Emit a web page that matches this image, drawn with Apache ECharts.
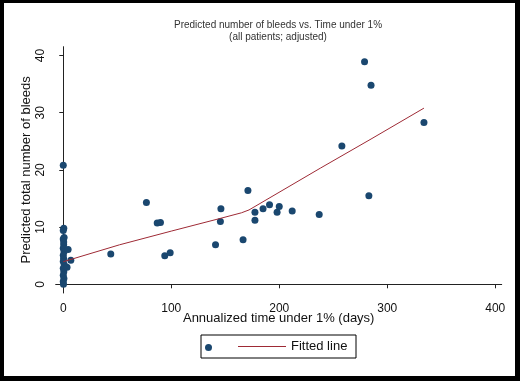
<!DOCTYPE html>
<html>
<head>
<meta charset="utf-8">
<script src="https://cdn.jsdelivr.net/npm/echarts@6/dist/echarts.min.js"></script>
<style>
  html, body { margin: 0; padding: 0; background: #000; }
  #chart { position: absolute; left: 4px; top: 3px; width: 511px; height: 373px; background: #fff; }
</style>
</head>
<body>
<div id="chart"></div>
<script>
// patients: annualized time under 1% (days) vs predicted bleeds
var timeUnder = [0, 0.5, 0, 0.8, 0, 0.4, 0, 0.7, 0, 0.3, 0, 0.9, 0, 0.5, 0, 0.6, 0, 0.2, 0.4,
  4.5, 3.5, 7, 44, 77, 87, 90, 94, 99, 141, 145.5, 146, 166.5, 171, 177.5, 177.5,
  185, 191, 198, 200, 212, 237, 258, 279, 283, 285, 334];
var bleeds = [20.8, 9.8, 9.4, 8.2, 7.9, 6.9, 6.3, 5.7, 5.1, 4.5, 4.0, 3.4, 2.8, 2.2, 1.6, 1.0, 0.5, 0.0, 7.4,
  6.1, 3.0, 4.2, 5.3, 14.3, 10.7, 10.8, 5.0, 5.5, 6.9, 11.0, 13.2, 7.8, 16.4, 12.6, 11.2,
  13.2, 13.9, 12.6, 13.6, 12.8, 12.2, 24.2, 38.9, 15.5, 34.8, 28.3];

// fitted line
var fitX = [0, 52, 100, 145, 165, 172, 238, 285, 334];
var fitY = [3.95, 6.9, 9.3, 11.5, 12.5, 13.0, 20.3, 25.4, 30.8];

var xTicks = [0, 100, 200, 300, 400];
var yTicks = [0, 10, 20, 30, 40];

var chart = echarts.init(document.getElementById('chart'));
var font = 'Liberation Sans, Arial, sans-serif';
var axisColor = '#222';
var lineColor = '#9e2a35';

chart.setOption({
  animation: false,
  textStyle: { fontFamily: font },
  title: {
    text: 'Predicted number of bleeds vs. Time under 1%',
    subtext: '(all patients; adjusted)',
    left: 274,
    top: 17,
    textAlign: 'center',
    padding: 0,
    itemGap: 2,
    textStyle: { fontSize: 10, fontWeight: 'normal', color: '#333', fontFamily: font },
    subtextStyle: { fontSize: 10, color: '#333', fontFamily: font }
  },
  grid: { left: 51.7, top: 43.7, right: 13.3, bottom: 83 },
  xAxis: {
    type: 'value',
    min: -7,
    max: 406,
    name: 'Annualized time under 1% (days)',
    nameLocation: 'middle',
    nameGap: 19,
    nameMoveOverlap: false,
    nameTextStyle: { fontSize: 13, color: '#111', fontFamily: font },
    axisLine: { show: true, lineStyle: { color: axisColor, width: 1 } },
    axisTick: { show: true, length: 4, lineStyle: { color: axisColor }, customValues: xTicks },
    axisLabel: { fontSize: 12, color: '#111', margin: 10, customValues: xTicks },
    splitLine: { show: false }
  },
  yAxis: {
    type: 'value',
    min: -1.52,
    max: 41.54,
    name: 'Predicted total number of bleeds',
    nameLocation: 'middle',
    nameRotate: 90,
    nameGap: 23,
    nameMoveOverlap: false,
    nameTextStyle: { fontSize: 13, color: '#111', fontFamily: font },
    axisLine: { show: true, lineStyle: { color: axisColor, width: 1 } },
    axisTick: { show: true, length: 4, lineStyle: { color: axisColor }, customValues: yTicks },
    axisLabel: { fontSize: 12, color: '#111', margin: 9, rotate: 90, customValues: yTicks },
    splitLine: { show: false }
  },
  legend: [
    {
      data: ['Patients'],
      left: 201,
      top: 341,
      itemWidth: 7,
      itemHeight: 7,
      padding: 0,
      formatter: function () { return ''; },
      selectedMode: false
    },
    {
      data: [{ name: 'Fitted line', icon: 'rect' }],
      left: 234,
      top: 337,
      itemWidth: 48,
      itemHeight: 1,
      padding: 0,
      selectedMode: false,
      itemStyle: { color: lineColor },
      textStyle: { fontSize: 13, color: '#111', fontFamily: font }
    }
  ],
  graphic: [
    {
      type: 'rect',
      shape: { x: 197, y: 332, width: 155, height: 23 },
      style: { fill: '#fff', stroke: '#000', lineWidth: 1 },
      z: -1
    }
  ],
  series: [
    {
      name: 'Patients',
      type: 'scatter',
      symbol: 'circle',
      symbolSize: 7,
      itemStyle: { color: '#1a476f', opacity: 1 },
      data: timeUnder.map(function (t, i) { return [t, bleeds[i]]; }),
      z: 3
    },
    {
      name: 'Fitted line',
      type: 'line',
      symbol: 'none',
      smooth: false,
      itemStyle: { color: lineColor },
      lineStyle: { color: lineColor, width: 1 },
      data: fitX.map(function (t, i) { return [t, fitY[i]]; }),
      z: 4
    }
  ]
});
</script>
</body>
</html>
